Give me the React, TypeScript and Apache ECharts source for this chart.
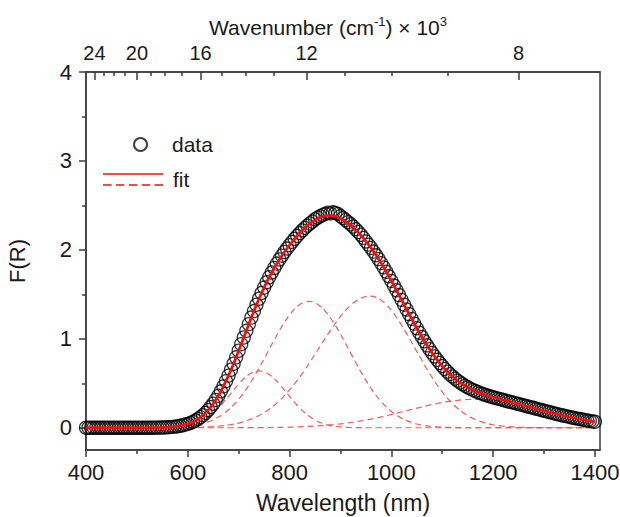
import React, { useEffect, useRef } from "react";
import * as echarts from "echarts";

// ---------- data ----------
const DATA_START = 400; // nm
const DATA_STEP = 5; // nm
const FIT_START = 400;
const FIT_STEP = 10;
const PEAK_START = 600;
const PEAK_STEP = 10;

// measured F(R), 400..1400 nm every 5 nm
const measured = [
  0, 0, 0, 0, 0, 0, 0, 0, 0, 0,
  0, 0, 0, 0, 0, 0, 0, 0, 0, 0,
  0, 0, 0, 0, 0, 0, 0, 0.001, 0.001, 0.002,
  0.003, 0.004, 0.005, 0.007, 0.01, 0.013, 0.017, 0.022, 0.029, 0.036,
  0.044, 0.054, 0.066, 0.081, 0.099, 0.119, 0.142, 0.168, 0.198, 0.233,
  0.271, 0.313, 0.359, 0.41, 0.465, 0.524, 0.586, 0.652, 0.72, 0.792,
  0.866, 0.94, 1.015, 1.09, 1.165, 1.239, 1.312, 1.383, 1.451, 1.515,
  1.576, 1.636, 1.693, 1.746, 1.797, 1.846, 1.892, 1.935, 1.976, 2.015,
  2.053, 2.09, 2.125, 2.158, 2.189, 2.219, 2.247, 2.273, 2.297, 2.318,
  2.345, 2.362, 2.378, 2.392, 2.405, 2.418, 2.41, 2.422, 2.415, 2.405,
  2.38, 2.358, 2.335, 2.312, 2.288, 2.262, 2.232, 2.202, 2.17, 2.135,
  2.095, 2.059, 2.022, 1.981, 1.939, 1.896, 1.851, 1.803, 1.754, 1.703,
  1.651, 1.599, 1.546, 1.492, 1.438, 1.384, 1.33, 1.277, 1.224, 1.171,
  1.119, 1.069, 1.02, 0.973, 0.927, 0.884, 0.842, 0.802, 0.764, 0.728,
  0.694, 0.662, 0.631, 0.603, 0.577, 0.553, 0.53, 0.509, 0.489, 0.471,
  0.455, 0.44, 0.426, 0.413, 0.401, 0.39, 0.379, 0.369, 0.36, 0.351,
  0.343, 0.335, 0.327, 0.32, 0.312, 0.304, 0.296, 0.289, 0.282, 0.274,
  0.267, 0.26, 0.252, 0.245, 0.237, 0.23, 0.222, 0.214, 0.207, 0.199,
  0.191, 0.184, 0.177, 0.17, 0.162, 0.155, 0.148, 0.141, 0.135, 0.128,
  0.122, 0.115, 0.109, 0.103, 0.098, 0.092, 0.087, 0.082, 0.077, 0.072,
  0.067,
];

// total fit, 400..1400 nm every 10 nm
const fitValues = [
  0, 0, 0, 0, 0, 0, 0, 0, 0, 0,
  0, 0, 0, 0, 0.001, 0.003, 0.005, 0.01, 0.017, 0.029,
  0.044, 0.066, 0.099, 0.142, 0.198, 0.271, 0.359, 0.465, 0.586, 0.72,
  0.866, 1.015, 1.165, 1.312, 1.451, 1.576, 1.693, 1.797, 1.892, 1.976,
  2.053, 2.125, 2.189, 2.247, 2.297, 2.336, 2.365, 2.382, 2.386, 2.379,
  2.356, 2.322, 2.279, 2.225, 2.164, 2.095, 2.022, 1.939, 1.851, 1.754,
  1.651, 1.546, 1.438, 1.33, 1.224, 1.119, 1.02, 0.927, 0.842, 0.764,
  0.694, 0.631, 0.577, 0.53, 0.489, 0.455, 0.426, 0.401, 0.379, 0.36,
  0.343, 0.327, 0.312, 0.296, 0.282, 0.267, 0.252, 0.237, 0.222, 0.207,
  0.191, 0.177, 0.162, 0.148, 0.135, 0.122, 0.109, 0.098, 0.087, 0.077,
  0.067,
];

// fitted components, 600..1400 nm every 10 nm
const peak1 = [
  0.025, 0.039, 0.059, 0.087, 0.123, 0.168, 0.222, 0.285, 0.353, 0.423,
  0.491, 0.551, 0.599, 0.629, 0.64, 0.629, 0.599, 0.551, 0.491, 0.423,
  0.353, 0.285, 0.222, 0.168, 0.123, 0.087, 0.059, 0.039, 0.025, 0.016,
  0.009, 0.005, 0.003, 0.002, 0.001, 0, 0, 0, 0, 0,
  0, 0, 0, 0, 0, 0, 0, 0, 0, 0,
  0, 0, 0, 0, 0, 0, 0, 0, 0, 0,
  0, 0, 0, 0, 0, 0, 0, 0, 0, 0,
  0, 0, 0, 0, 0, 0, 0, 0, 0, 0,
  0,
];
const peak2 = [
  0.017, 0.024, 0.035, 0.048, 0.066, 0.09, 0.12, 0.157, 0.202, 0.256,
  0.321, 0.395, 0.478, 0.571, 0.671, 0.775, 0.883, 0.989, 1.092, 1.186,
  1.268, 1.336, 1.385, 1.413, 1.42, 1.404, 1.367, 1.311, 1.237, 1.15,
  1.052, 0.947, 0.84, 0.733, 0.63, 0.533, 0.444, 0.364, 0.294, 0.234,
  0.183, 0.141, 0.107, 0.08, 0.059, 0.042, 0.03, 0.021, 0.015, 0.01,
  0.007, 0.004, 0.003, 0.002, 0.001, 0, 0, 0, 0, 0,
  0, 0, 0, 0, 0, 0, 0, 0, 0, 0,
  0, 0, 0, 0, 0, 0, 0, 0, 0, 0,
  0,
];
const peak3 = [
  0.002, 0.003, 0.005, 0.007, 0.009, 0.013, 0.017, 0.023, 0.031, 0.041,
  0.053, 0.068, 0.087, 0.11, 0.138, 0.17, 0.208, 0.253, 0.304, 0.361,
  0.425, 0.495, 0.571, 0.653, 0.738, 0.826, 0.916, 1.005, 1.092, 1.175,
  1.251, 1.319, 1.377, 1.423, 1.456, 1.475, 1.48, 1.466, 1.435, 1.385,
  1.32, 1.243, 1.154, 1.059, 0.959, 0.857, 0.756, 0.658, 0.566, 0.481,
  0.403, 0.333, 0.272, 0.219, 0.174, 0.137, 0.106, 0.081, 0.061, 0.046,
  0.034, 0.025, 0.018, 0.012, 0.009, 0.006, 0.004, 0.003, 0.002, 0.001,
  0, 0, 0, 0, 0, 0, 0, 0, 0, 0,
  0,
];
const peak4 = [
  0, 0, 0, 0, 0, 0, 0, 0, 0, 0,
  0.001, 0.001, 0.001, 0.002, 0.002, 0.002, 0.003, 0.004, 0.005, 0.006,
  0.007, 0.009, 0.011, 0.013, 0.016, 0.019, 0.023, 0.027, 0.032, 0.038,
  0.044, 0.051, 0.059, 0.067, 0.077, 0.087, 0.098, 0.109, 0.122, 0.135,
  0.148, 0.162, 0.177, 0.191, 0.206, 0.22, 0.234, 0.248, 0.261, 0.273,
  0.284, 0.294, 0.302, 0.309, 0.314, 0.318, 0.32, 0.32, 0.318, 0.314,
  0.309, 0.302, 0.294, 0.284, 0.273, 0.261, 0.248, 0.234, 0.22, 0.206,
  0.191, 0.177, 0.162, 0.148, 0.135, 0.122, 0.109, 0.098, 0.087, 0.077,
  0.067,
];
const peaks = [peak1, peak2, peak3, peak4];

// axis ticks
const bottomMajor = [400, 600, 800, 1000, 1200, 1400];
const bottomMinor = [500, 700, 900, 1100, 1300];
const yMajor = [0, 1, 2, 3, 4];
const yMinor = [0.5, 1.5, 2.5, 3.5];
const topMajorWavenumber = [24, 20, 16, 12, 8]; // x 10^3 cm^-1
const topMinorWavenumber = [23, 22, 21, 19, 18, 17, 15, 14, 13, 11, 10, 9];

// ---------- styling ----------
const FONT = "'Liberation Sans', Arial, Helvetica, sans-serif";
const AXIS_COLOR = "#3c3c3c";
const TEXT_COLOR = "#1a1a1a";
const RED = "#ee1111";
const X_MIN = 400;
const X_MAX = 1410;
const FIT_ICON =
  "path://M0,0H60V1.6H0Z M0,11H8.5V12.6H0Z M12.9,11H21.4V12.6H12.9Z M25.8,11H34.3V12.6H25.8Z M38.7,11H47.2V12.6H38.7Z M51.5,11H60V12.6H51.5Z";

const toPairs = (start: number, step: number, vals: number[]) =>
  vals.map((v, i) => [start + i * step, v]);

const wnToNm = (wn: number) => 10000 / wn;

export default function App() {
  const ref = useRef<HTMLDivElement | null>(null);

  useEffect(() => {
    if (!ref.current) return;
    const chart = echarts.init(ref.current, undefined, { renderer: "svg" });
    const lineStyle = { color: AXIS_COLOR, width: 1.5 };
    const xBase = {
      type: "value",
      min: X_MIN,
      max: X_MAX,
      splitLine: { show: false },
    };
    const yBase = {
      type: "value",
      min: -0.25,
      max: 4,
      splitLine: { show: false },
    };

    const option: any = {
      animation: false,
      backgroundColor: "#ffffff",
      textStyle: { fontFamily: FONT },
      grid: {
        left: 86,
        right: 20,
        top: 72,
        bottom: 67,
        show: true,
        borderColor: AXIS_COLOR,
        borderWidth: 1.5,
        containLabel: false,
        outerBoundsMode: "none",
      },
      legend: [
        {
          data: [
            {
              name: "data",
              icon: "circle",
              itemStyle: { color: "rgba(255,255,255,0)", borderColor: "#111111", borderWidth: 2 },
            },
          ],
          left: 133,
          top: 134,
          padding: 0,
          itemWidth: 13,
          itemHeight: 13,
          selectedMode: false,
          textStyle: {
            fontSize: 21,
            lineHeight: 21,
            color: TEXT_COLOR,
            fontFamily: FONT,
            padding: [0, 0, 0, 20],
          },
        },
        {
          data: [
            {
              name: "fit",
              icon: FIT_ICON,
              itemStyle: { color: RED, borderWidth: 0 },
            },
          ],
          left: 103,
          top: 169,
          padding: 0,
          itemWidth: 60,
          itemHeight: 13,
          selectedMode: false,
          textStyle: {
            fontSize: 21,
            lineHeight: 21,
            color: TEXT_COLOR,
            fontFamily: FONT,
            padding: [0, 0, 0, 5],
          },
        },
      ],
      xAxis: [
        {
          ...xBase,
          position: "bottom",
          axisLine: { show: true, onZero: false, lineStyle },
          axisTick: {
            show: true,
            inside: false,
            length: 7,
            customValues: bottomMajor,
            lineStyle,
          },
          axisLabel: {
            customValues: bottomMajor,
            formatter: (v: number) => String(v),
            fontSize: 22,
            color: TEXT_COLOR,
            fontFamily: FONT,
            margin: 11,
          },
          name: "Wavelength (nm)",
          nameLocation: "middle",
          nameGap: 41,
          nameTextStyle: { fontSize: 23, color: TEXT_COLOR, fontFamily: FONT },
        },
        {
          ...xBase,
          position: "bottom",
          axisLine: { show: false, onZero: false },
          axisTick: {
            show: true,
            inside: false,
            length: 4,
            customValues: bottomMinor,
            lineStyle,
          },
          axisLabel: { show: false },
        },
        {
          ...xBase,
          position: "top",
          axisLine: { show: true, onZero: false, lineStyle },
          axisTick: {
            show: true,
            inside: true,
            length: 8,
            customValues: topMajorWavenumber.map(wnToNm),
            lineStyle,
          },
          axisLabel: {
            customValues: topMajorWavenumber.map(wnToNm),
            formatter: (v: number) => String(Math.round(10000 / v)),
            fontSize: 20,
            color: TEXT_COLOR,
            fontFamily: FONT,
            margin: 9,
          },
          name: "Wavenumber (cm{sup|-1}) × 10{sup|3}",
          nameLocation: "middle",
          nameGap: 31,
          nameTextStyle: {
            fontSize: 21,
            color: TEXT_COLOR,
            fontFamily: FONT,
            padding: [0, 30, 0, 0],
            rich: {
              sup: {
                fontSize: 13,
                color: TEXT_COLOR,
                fontFamily: FONT,
                verticalAlign: "top",
                padding: [0, 0, 12, 0],
              },
            },
          },
        },
        {
          ...xBase,
          position: "top",
          axisLine: { show: false, onZero: false },
          axisTick: {
            show: true,
            inside: true,
            length: 4,
            customValues: topMinorWavenumber.map(wnToNm),
            lineStyle,
          },
          axisLabel: { show: false },
        },
      ],
      yAxis: [
        {
          ...yBase,
          position: "left",
          axisLine: { show: true, onZero: false, lineStyle },
          axisTick: {
            show: true,
            inside: false,
            length: 7,
            customValues: yMajor,
            lineStyle,
          },
          axisLabel: {
            customValues: yMajor,
            fontSize: 22,
            color: TEXT_COLOR,
            fontFamily: FONT,
            margin: 14,
          },
          name: "F(R)",
          nameLocation: "middle",
          nameGap: 58,
          nameTextStyle: { fontSize: 22, color: TEXT_COLOR, fontFamily: FONT },
        },
        {
          ...yBase,
          position: "left",
          axisLine: { show: false, onZero: false },
          axisTick: {
            show: true,
            inside: false,
            length: 4,
            customValues: yMinor,
            lineStyle,
          },
          axisLabel: { show: false },
        },
      ],
      series: [
        ...peaks.map((p, i) => ({
          name: `peak ${i + 1}`,
          type: "line",
          xAxisIndex: 0,
          yAxisIndex: 0,
          data: toPairs(PEAK_START, PEAK_STEP, p),
          symbol: "none",
          smooth: true,
          silent: true,
          lineStyle: { color: "#f04a4a", width: 1.2, type: [6, 4], opacity: 0.9 },
          z: 2,
        })),
        {
          name: "data",
          type: "scatter",
          xAxisIndex: 0,
          yAxisIndex: 0,
          data: toPairs(DATA_START, DATA_STEP, measured),
          symbol: "circle",
          symbolSize: 13,
          itemStyle: { color: "rgba(255,255,255,0)", borderColor: "#000000", borderWidth: 1.3 },
          silent: true,
          z: 3,
        },
        {
          name: "fit",
          type: "line",
          xAxisIndex: 0,
          yAxisIndex: 0,
          data: toPairs(FIT_START, FIT_STEP, fitValues),
          symbol: "none",
          smooth: true,
          silent: true,
          itemStyle: { color: RED },
          lineStyle: { color: RED, width: 2.8 },
          z: 4,
        },
      ],
    };

    chart.setOption(option);
    return () => chart.dispose();
  }, []);

  return (
    <div
      ref={ref}
      style={{ position: "fixed", left: 0, top: 0, width: 620, height: 517 }}
    />
  );
}
